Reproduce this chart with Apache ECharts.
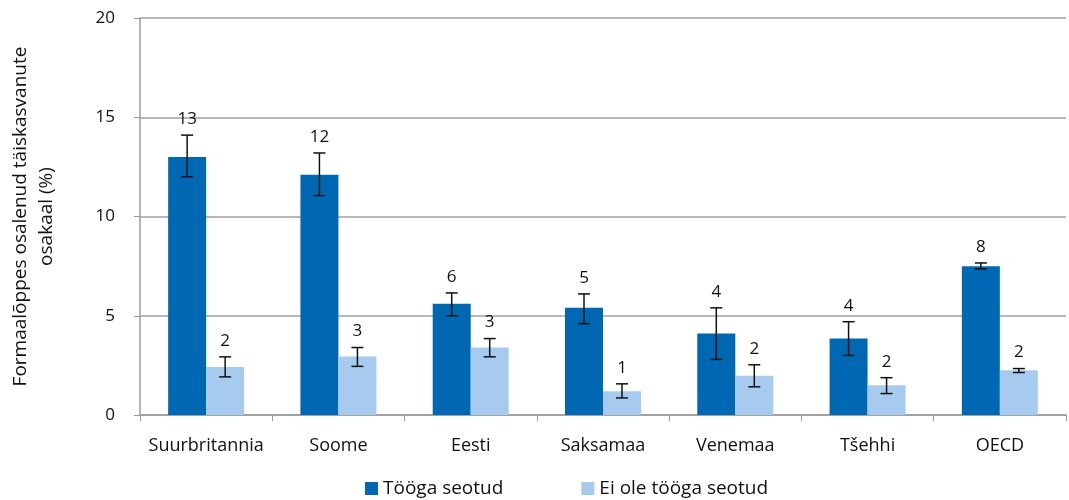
<!DOCTYPE html>
<html><head><meta charset="utf-8">
<script src="https://cdn.jsdelivr.net/npm/echarts@6/dist/echarts.min.js"></script>
<style>html,body{margin:0;padding:0;background:#fff}#c{width:1069px;height:500px}</style>
</head><body><div id="c"></div>
<script>
const categories = ['Suurbritannia','Soome','Eesti','Saksamaa','Venemaa','Tšehhi','OECD'];
const seriesNames = ['Tööga seotud','Ei ole tööga seotud'];
const workValues = [13.0, 12.1, 5.6, 5.4, 4.1, 3.85, 7.5];
const workLow = [12.0, 11.05, 5.0, 4.6, 2.8, 3.0, 7.36];
const workHigh = [14.1, 13.2, 6.15, 6.1, 5.4, 4.7, 7.66];
const nonWorkValues = [2.42, 2.95, 3.4, 1.2, 1.98, 1.5, 2.25];
const nonWorkLow = [1.92, 2.45, 2.93, 0.86, 1.42, 1.08, 2.14];
const nonWorkHigh = [2.93, 3.4, 3.85, 1.57, 2.53, 1.88, 2.34];
const yTicks = [0, 5, 10, 15, 20];

const chart = echarts.init(document.getElementById('c'));
const font = 'Open Sans';
const barW = 38;

function errSeries(name, low, high, labels, offset) {
  return {
    type: 'custom', name: name + ' err', silent: true, z: 10,
    data: categories.map((c, i) => [i, low[i], high[i], Math.round(labels[i])]),
    renderItem: function (params, api) {
      const x = api.coord([api.value(0), 0])[0] + offset;
      const lo = api.coord([api.value(0), api.value(1)])[1];
      const hi = api.coord([api.value(0), api.value(2)])[1];
      const w = 6;
      const st = { stroke: '#111', lineWidth: 1.5 };
      return { type: 'group', children: [
        { type: 'line', shape: { x1: x, y1: lo, x2: x, y2: hi }, style: st },
        { type: 'line', shape: { x1: x - w, y1: lo, x2: x + w, y2: lo }, style: st },
        { type: 'line', shape: { x1: x - w, y1: hi, x2: x + w, y2: hi }, style: st },
        { type: 'text', x: x, y: hi - 16, style: { text: String(api.value(3)), fill: '#111', font: '17px ' + font, align: 'center', verticalAlign: 'middle' } }
      ]};
    }
  };
}

chart.setOption({
  animation: false,
  grid: { left: 137, right: 3, top: 18, bottom: 85 },
  legend: {
    top: 474, left: 360, itemWidth: 13, itemHeight: 13, itemGap: 78,
    data: seriesNames.map(n => ({ name: n, icon: 'rect' })),
    textStyle: { fontFamily: font, fontSize: 19, color: '#111' }
  },
  xAxis: {
    type: 'category', data: categories,
    axisLine: { lineStyle: { color: '#9a9a9a', width: 1.5 } },
    axisTick: { show: true, alignWithLabel: false, length: 6, lineStyle: { color: '#9a9a9a' } },
    axisLabel: { fontFamily: font, fontSize: 18, color: '#111', margin: 22, interval: 0 }
  },
  yAxis: {
    type: 'value', min: 0, max: 20, interval: 5,
    name: 'Formaalõppes osalenud täiskasvanute\nosakaal (%)',
    nameLocation: 'middle', nameGap: 80, nameRotate: 90,
    nameTextStyle: { fontFamily: font, fontSize: 19, color: '#111', lineHeight: 26 },
    axisLine: { show: true, lineStyle: { color: '#9a9a9a', width: 1.5 } },
    axisTick: { show: true, length: 6, lineStyle: { color: '#9a9a9a' } },
    axisLabel: { fontFamily: font, fontSize: 17, color: '#111', margin: 25 },
    splitLine: { lineStyle: { color: '#a0a0a0', width: 1.5 } }
  },
  series: [
    { name: seriesNames[0], type: 'bar', data: workValues, barWidth: barW, barGap: '0%', itemStyle: { color: '#0068b3' } },
    { name: seriesNames[1], type: 'bar', data: nonWorkValues, barWidth: barW, barGap: '0%', itemStyle: { color: '#a6cbee' } },
    errSeries(seriesNames[0], workLow, workHigh, workValues, -barW / 2),
    errSeries(seriesNames[1], nonWorkLow, nonWorkHigh, nonWorkValues, barW / 2)
  ]
});
</script></body></html>
